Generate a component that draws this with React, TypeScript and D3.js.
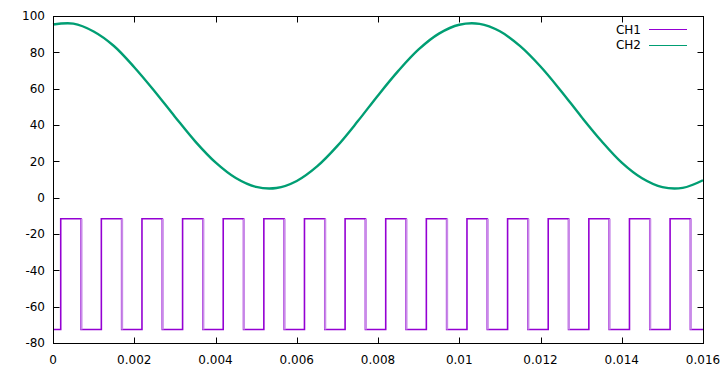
import * as d3 from "d3"

const ch2Times = [
  0, 0.0005, 0.001, 0.0015, 0.002, 0.0025, 0.003, 0.0035, 0.004, 0.0045, 0.005,
  0.0055, 0.006, 0.0065, 0.007, 0.0075, 0.008, 0.0085, 0.009, 0.0095, 0.01,
  0.0105, 0.011, 0.0115, 0.012, 0.0125, 0.013, 0.0135, 0.014, 0.0145, 0.015,
  0.0155, 0.016,
]
const ch2Values = [
  95.3, 95.8, 91.5, 83.5, 71.8, 58.6, 44.6, 31.0, 19.4, 10.8, 5.9,
  5.3, 9.2, 17.2, 28.5, 42.0, 56.3, 69.8, 81.6, 90.3, 95.2,
  95.7, 91.6, 83.4, 72.2, 58.9, 44.7, 31.2, 19.3, 10.7, 5.8,
  5.4, 9.6,
]

// CH1 (purple) square wave: edge times and the two levels
const ch1Rise = [
  0.00019, 0.00119, 0.00219, 0.00319, 0.00419, 0.00519, 0.00619, 0.00719,
  0.00819, 0.00919, 0.01019, 0.01119, 0.01219, 0.01319, 0.01419, 0.01519,
]
const ch1Fall = [
  0.00069, 0.00169, 0.00269, 0.00369, 0.00469, 0.00569, 0.00669, 0.00769,
  0.00869, 0.00969, 0.01069, 0.01169, 0.01269, 0.01369, 0.01469, 0.01569,
]
const ch1High = -11.6
const ch1Low = -72.6

const xTicks = [0, 0.002, 0.004, 0.006, 0.008, 0.01, 0.012, 0.014, 0.016]
const yTicks = [-80, -60, -40, -20, 0, 20, 40, 60, 80, 100]

const W = 728
const H = 375
const margin = { left: 53, right: 25, top: 16, bottom: 32 }
const FONT = "'DejaVu Sans', sans-serif"
const PURPLE = "#9400d3"
const GREEN = "#009e73"

export default function App() {
  const x = d3.scaleLinear().domain([0, 0.016]).range([margin.left, W - margin.right])
  const y = d3.scaleLinear().domain([-80, 100]).range([H - margin.bottom, margin.top])

  const x0 = margin.left + 0.5
  const x1 = W - margin.right + 0.5
  const y0 = margin.top + 0.5
  const y1 = H - margin.bottom + 0.5

  const ch2 = ch2Times.map((t, i) => [t, ch2Values[i]] as [number, number])
  const ch2Line = d3.line<[number, number]>()
    .x(d => x(d[0]))
    .y(d => y(d[1]))
    .curve(d3.curveCatmullRom)

  // square wave path
  const sq: [number, number][] = [[0, ch1Low]]
  ch1Rise.forEach((r, i) => {
    sq.push([r, ch1Low], [r, ch1High], [ch1Fall[i], ch1High], [ch1Fall[i], ch1Low])
  })
  sq.push([0.016, ch1Low])
  const sqLine = d3.line<[number, number]>().x(d => x(d[0])).y(d => y(d[1]))

  return (
    <svg width={W} height={H} style={{ position: "absolute", left: 0, top: 0, background: "#fff" }}
      fontFamily={FONT} fontSize={12}>
      <rect width={W} height={H} fill="#fff" />

      {/* data */}
      <g>
        <path d={sqLine(sq) ?? ""} fill="none" stroke={PURPLE} strokeWidth={1.6} />
        {ch1Fall.map((f, i) => (
          <line key={i} x1={x(f) + 0.5} x2={x(f) + 0.5} y1={y(ch1High)} y2={y(ch1Low)}
            stroke="#c98be8" strokeWidth={2} />
        ))}
        <path d={ch2Line(ch2) ?? ""} fill="none" stroke={GREEN} strokeWidth={2.4} />
      </g>

      {/* frame */}
      <rect x={x0} y={y0} width={x1 - x0} height={y1 - y0} fill="none" stroke="#000" strokeWidth={1} />

      {/* x ticks */}
      {xTicks.map(t => {
        const px = Math.round(x(t)) + 0.5
        return (
          <g key={"x" + t}>
            <line x1={px} x2={px} y1={y1} y2={y1 - 6} stroke="#000" />
            <line x1={px} x2={px} y1={y0} y2={y0 + 6} stroke="#000" />
            <text x={x(t)} y={364} textAnchor="middle" fill="#000">{d3.format("")(t)}</text>
          </g>
        )
      })}

      {/* y ticks */}
      {yTicks.map(t => {
        const py = Math.round(y(t)) + 0.5
        return (
          <g key={"y" + t}>
            <line x1={x0} x2={x0 + 6} y1={py} y2={py} stroke="#000" />
            <line x1={x1} x2={x1 - 6} y1={py} y2={py} stroke="#000" />
            <text x={45} y={y(t)} dy="0.35em" textAnchor="end" fill="#000">{t}</text>
          </g>
        )
      })}

      {/* legend */}
      <g>
        <text x={641} y={30} dy="0.35em" textAnchor="end" fill="#000">CH1</text>
        <line x1={649} x2={687} y1={29.5} y2={29.5} stroke={PURPLE} />
        <text x={641} y={45} dy="0.35em" textAnchor="end" fill="#000">CH2</text>
        <line x1={649} x2={687} y1={45.5} y2={45.5} stroke={GREEN} />
      </g>
    </svg>
  )
}
